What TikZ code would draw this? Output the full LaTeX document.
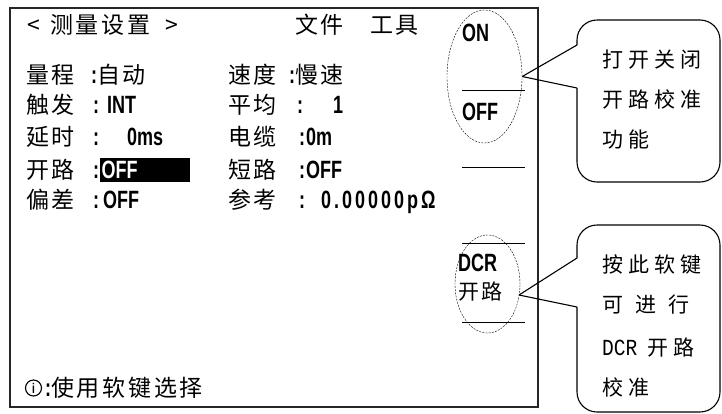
\documentclass[tikz,border=0pt]{standalone}
\usepackage{fontspec}
\setmainfont{Noto Sans CJK SC}
\newfontfamily\scrfont[LetterSpace=12]{Noto Sans CJK SC}
\newfontfamily\latfont[FakeStretch=0.72]{Liberation Sans}
\newfontfamily\latwide[FakeStretch=0.72,LetterSpace=12]{Liberation Sans}
\newfontfamily\tipfont[LetterSpace=25]{Noto Sans CJK SC}
\newfontfamily\monofont[FakeStretch=0.85]{Liberation Mono}
\usetikzlibrary{shapes.geometric}
\newcommand{\lt}[1]{{\latfont\bfseries\fontsize{25}{25}\selectfont #1}}
\newcommand{\ltw}[1]{{\latwide\bfseries\fontsize{25}{25}\selectfont #1}}

\begin{document}
\begin{tikzpicture}[x=1pt,y=-1pt]
    \useasboundingbox (0,0) rectangle (722,413);
    \draw[line width=1.3pt, black!85] (10,8) rectangle (538,407);

    \begin{scope}[every node/.style={anchor=west, inner sep=0pt, text height=18pt, text depth=2pt, font=\scrfont\fontsize{23}{23}\selectfont}]
        \node (lt) at (27,25) {<};
        \node (title) at (50,25) {测量设置};
        \node (gt) at (165,25) {>};
        \node (file) at (295,25) {文件};
        \node (tool) at (370,25) {工具};

        \node (range) at (26,75) {量程};
        \node (trig) at (26,105) {触发};
        \node (delay) at (26,137) {延时};
        \node (open) at (26,170) {开路};
        \node (dev) at (26,200) {偏差};

        \node (rangev) at (91,75) {\lt{:}自动};
        \node (trigv) at (93,105) {\lt{:}\hspace{8pt}\lt{INT}};
        \node (delayv) at (93,137) {\lt{:}\hspace{28pt}\lt{0ms}};
        \node (openc) at (93,170) {\lt{:}};
        \node (openv) [fill=black, text=white, text width=87pt, align=left, inner xsep=1.5pt, inner ysep=2pt] at (100,170) {\lt{OFF}};
        \node (devv) at (93,200) {\lt{:}\hspace{4pt}\lt{OFF}};

        \node (speed) at (228,75) {速度};
        \node (avg) at (228,105) {平均};
        \node (cable) at (228,137) {电缆};
        \node (short) at (228,170) {短路};
        \node (ref) at (228,200) {参考};

        \node (speedv) at (289,75) {\lt{:}慢速};
        \node (avgv) at (297,105) {\lt{:}\hspace{30pt}\lt{1}};
        \node (cablev) at (299,137) {\lt{:}\hspace{1pt}\lt{0m}};
        \node (shortv) at (299,170) {\lt{:}\hspace{1pt}\lt{OFF}};
        \node (refv) at (299,200) {\lt{:}\hspace{16pt}\ltw{0.00000pΩ}};

        \node (hint) at (45,388) {\lt{:}使用软键选择};

        \node (on) at (462,33) {\lt{ON}};
        \node (off) at (462,112) {\lt{OFF}};
        \node (dcr) [text height=16pt] at (458,264) {\lt{DCR}};
        \node (dcro) [font=\scrfont\fontsize{21}{21}\selectfont] at (458,291) {开路};
    \end{scope}

    \node (info) [circle, draw, line width=1.1pt, minimum size=16pt, inner sep=0pt, font=\latfont\bfseries\fontsize{14}{14}\selectfont] at (33.5,388) {i};

    \draw (462,90) -- (525,90);
    \draw (462,167) -- (525,167);
    \draw (462,243) -- (525,243);
    \draw (462,322) -- (525,322);

    \begin{scope}[every node/.style={ellipse, draw, dash pattern=on 2pt off 1.2pt, thin, inner sep=0pt}]
        \node (e1) [minimum width=75pt, minimum height=133pt] at (484.5,76.5) {};
        \node (e2) [minimum width=65pt, minimum height=98pt] at (487.5,284) {};
    \end{scope}

    \coordinate (c1u) at (577,45);
    \coordinate (c1d) at (577,88);
    \coordinate (t2) at (519,295);
    \coordinate (c2u) at (577,258);
    \coordinate (c2d) at (577,307);

    \begin{scope}[line width=1.1pt]
        \draw[rounded corners=20pt] (c1u) -- (577,20) -- (720,20) -- (720,182) -- (577,182) -- (c1d);
        \draw[rounded corners=20pt] (c2u) -- (577,225) -- (720,225) -- (720,412) -- (577,412) -- (c2d);
        \begin{scope}[every edge/.style={draw, line width=1.1pt}]
            \path [-] (c1u) edge (e1.east) (e1.east) edge (c1d);
            \path [-] (c2u) edge (t2) (t2) edge (c2d);
        \end{scope}
    \end{scope}

    \begin{scope}[every node/.style={anchor=west, inner sep=0pt, text height=17pt, text depth=2pt, font=\tipfont\fontsize{21}{21}\selectfont}]
        \node (tipa) at (602,60) {打开关闭};
        \node (tipb) at (602,100) {开路校准};
        \node (tipc) at (602,140) {功能};
        \node (tipd) at (602,265) {按此软键};
        \node (tipe) at (602,305) {可\hspace{12pt}进\hspace{12pt}行};
        \node (tipf) at (602,348) {{\monofont\fontsize{23}{23}\selectfont DCR}\hspace{10pt}开路};
        \node (tipg) at (602,388) {校准};
    \end{scope}
\end{tikzpicture}
\end{document}
